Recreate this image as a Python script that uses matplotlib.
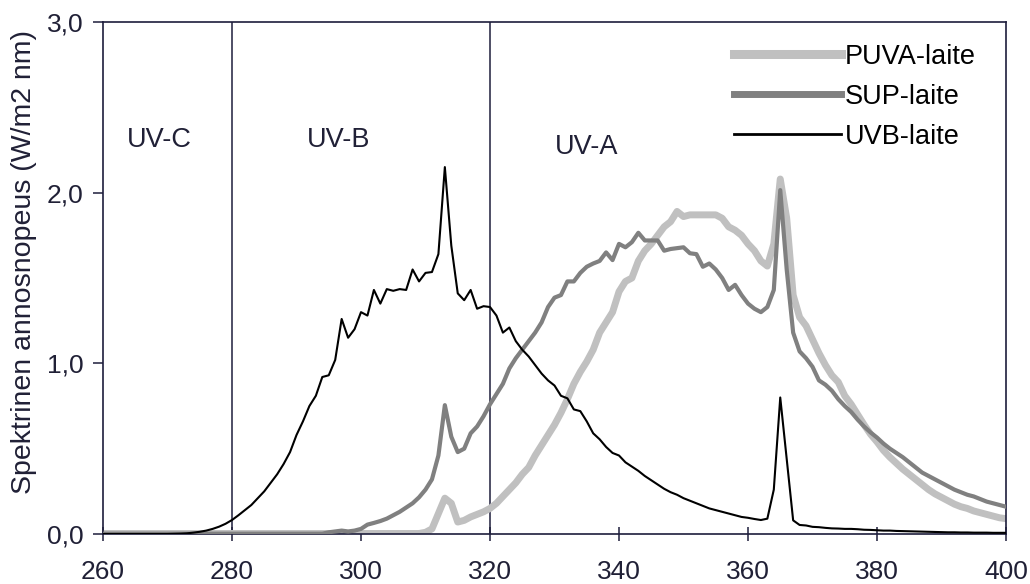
import numpy as np
import matplotlib
matplotlib.use("Agg")
import matplotlib.pyplot as plt
from matplotlib.ticker import FuncFormatter

plt.rcParams['font.family'] = ['Liberation Sans', 'DejaVu Sans']

wavelength = list(range(260, 401))

uvb = [0.0]*11 + [
    0.001, 0.002, 0.004, 0.008, 0.013, 0.02, 0.03, 0.043, 0.06, 0.082,        # 271-280
    0.11, 0.14, 0.17, 0.21, 0.25, 0.30, 0.35, 0.41, 0.48, 0.58,               # 281-290
    0.66, 0.75, 0.81, 0.92, 0.93, 1.02, 1.26, 1.15, 1.20, 1.30,               # 291-300
    1.28, 1.43, 1.35, 1.435, 1.425, 1.435, 1.43, 1.55, 1.48, 1.53,            # 301-310
    1.535, 1.64, 2.15, 1.69, 1.41, 1.37, 1.43, 1.32, 1.335, 1.33,             # 311-320
    1.28, 1.18, 1.21, 1.13, 1.08, 1.04, 0.99, 0.94, 0.90, 0.87,               # 321-330
    0.81, 0.795, 0.73, 0.72, 0.66, 0.59, 0.555, 0.51, 0.475, 0.46,            # 331-340
    0.42, 0.395, 0.37, 0.34, 0.315, 0.29, 0.265, 0.245, 0.23, 0.21,           # 341-350
    0.195, 0.18, 0.165, 0.15, 0.14, 0.13, 0.12, 0.11, 0.10, 0.095,            # 351-360
    0.088, 0.082, 0.09, 0.26, 0.80, 0.44, 0.08, 0.053, 0.05, 0.042,           # 361-370
    0.04, 0.036, 0.033, 0.032, 0.03, 0.03, 0.028, 0.025, 0.024, 0.022,        # 371-380
    0.02, 0.02, 0.018, 0.017, 0.016, 0.015, 0.014, 0.013, 0.012, 0.011,       # 381-390
    0.01, 0.01, 0.009, 0.009, 0.008, 0.008, 0.008, 0.007, 0.007, 0.007,       # 391-400
]

sup = [0.002]*35 + [
    0.01, 0.015, 0.02, 0.015, 0.02, 0.03,                                     # 295-300
    0.055, 0.065, 0.076, 0.09, 0.11, 0.13, 0.155, 0.18, 0.215, 0.26,          # 301-310
    0.32, 0.46, 0.755, 0.57, 0.48, 0.50, 0.59, 0.63, 0.69, 0.76,              # 311-320
    0.82, 0.88, 0.97, 1.03, 1.08, 1.13, 1.18, 1.24, 1.33, 1.385,              # 321-330
    1.40, 1.48, 1.48, 1.53, 1.566, 1.585, 1.60, 1.65, 1.605, 1.70,            # 331-340
    1.68, 1.71, 1.765, 1.72, 1.72, 1.72, 1.66, 1.67, 1.675, 1.68,             # 341-350
    1.645, 1.64, 1.566, 1.585, 1.55, 1.50, 1.43, 1.46, 1.40, 1.35,            # 351-360
    1.32, 1.30, 1.33, 1.43, 2.015, 1.55, 1.18, 1.07, 1.03, 0.98,              # 361-370
    0.90, 0.875, 0.84, 0.79, 0.75, 0.715, 0.67, 0.63, 0.595, 0.565,           # 371-380
    0.53, 0.50, 0.475, 0.45, 0.42, 0.39, 0.36, 0.34, 0.32, 0.30,              # 381-390
    0.28, 0.26, 0.245, 0.23, 0.22, 0.205, 0.19, 0.18, 0.17, 0.16,             # 391-400
]

puva = [0.003]*50 + [
    0.01, 0.03, 0.12, 0.21, 0.18, 0.07, 0.08, 0.10, 0.115, 0.13, 0.15,        # 310-320
    0.18, 0.22, 0.26, 0.30, 0.35, 0.39, 0.46, 0.52, 0.58, 0.64,               # 321-330
    0.71, 0.79, 0.88, 0.95, 1.01, 1.08, 1.18, 1.24, 1.30, 1.42,               # 331-340
    1.48, 1.50, 1.60, 1.66, 1.70, 1.75, 1.80, 1.83, 1.89, 1.86,               # 341-350
    1.87, 1.87, 1.87, 1.87, 1.87, 1.85, 1.80, 1.78, 1.75, 1.70,               # 351-360
    1.66, 1.60, 1.57, 1.70, 2.08, 1.85, 1.40, 1.27, 1.22, 1.14,               # 361-370
    1.06, 0.99, 0.93, 0.89, 0.81, 0.76, 0.70, 0.64, 0.585, 0.54,              # 371-380
    0.49, 0.45, 0.415, 0.38, 0.35, 0.32, 0.29, 0.26, 0.235, 0.215,            # 381-390
    0.195, 0.175, 0.16, 0.15, 0.135, 0.125, 0.115, 0.105, 0.095, 0.09,        # 391-400
]

series_labels = ["PUVA-laite", "SUP-laite", "UVB-laite"]
band_edges = [280, 320]
band_labels = ["UV-C", "UV-B", "UV-A"]
band_label_x = [263.7, 291.6, 330.1]
band_label_y = [2.31, 2.31, 2.27]

x_ticks = list(range(260, 401, 20))
y_ticks = [0.0, 1.0, 2.0, 3.0]
ylabel = "Spektrinen annosnopeus (W/m2 nm)"

navy = '#1e1e3c'
text_c = '#202036'

fig = plt.figure(figsize=(10.3, 5.84), dpi=100)
ax = fig.add_axes([0.1, 0.0856, 0.8767, 0.8767])

for xv in band_edges:
    ax.axvline(xv, color=navy, lw=1.1, zorder=1)

ax.plot(wavelength, puva, color='#c0c0c0', lw=5.0, label=series_labels[0], zorder=2, solid_joinstyle='round')
ax.plot(wavelength, sup, color='#808080', lw=3.0, label=series_labels[1], zorder=3, solid_joinstyle='round')
ax.plot(wavelength, uvb, color='black', lw=1.5, label=series_labels[2], zorder=4)

for lab, xl, yl in zip(band_labels, band_label_x, band_label_y):
    ax.text(xl, yl, lab, fontsize=19.5, color=text_c, ha='left', va='center')

ax.set_xlim(260, 400)
ax.set_ylim(0, 3.0)
ax.set_xticks(x_ticks)
ax.set_yticks(y_ticks)
ax.yaxis.set_major_formatter(FuncFormatter(lambda v, p: f"{v:.1f}".replace('.', ',')))
ax.tick_params(axis='x', direction='inout', length=10, width=1.1, color=navy, labelsize=19, labelcolor=text_c, pad=14)
ax.tick_params(axis='y', direction='out', length=7, width=1.1, color=navy, labelsize=19, labelcolor=text_c, pad=7)
for s in ax.spines.values():
    s.set_color(navy)
    s.set_linewidth(1.2)

ax.set_ylabel(ylabel, fontsize=20.5, color=text_c)
ax.yaxis.set_label_coords(-0.073, 0.532)

leg = ax.legend(loc='upper left', bbox_to_anchor=(0.699, 0.958), frameon=False, fontsize=19.5,
                handlelength=3.95, handletextpad=0.15, labelspacing=0.52,
                borderaxespad=0.0, borderpad=0.0)
for t in leg.get_texts():
    t.set_color('black')
for h, w in zip(leg.get_lines(), [6.5, 5.0, 2.0]):
    h.set_linewidth(w)

fig.savefig('out.png', dpi=100)
